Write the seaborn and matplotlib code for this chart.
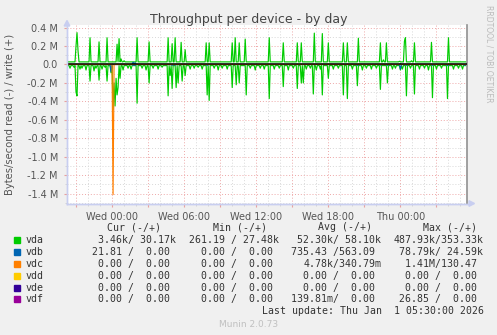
import numpy as np
import pandas as pd
import matplotlib
matplotlib.use("Agg")
import matplotlib.pyplot as plt
from matplotlib.patches import Polygon, Rectangle
import seaborn as sns

# ---------------- data (hours relative to Wed 00:00, bytes/s) ----------------
T_START, T_END = -3.75, 29.5          # Tue 20:15 .. Thu 05:30, 5-minute samples
STEP_H = 1.0 / 12

vda_write_base = 28e3
vda_write_h = [-2.97, -2.89, -2.81, -1.81, -1.11, -0.39, 0.44, 0.58, 0.72, 1.00,
               2.08, 3.06, 4.67, 5.00, 5.28, 5.78, 6.11, 7.83, 8.06, 10.00,
               10.28, 10.56, 11.11, 13.11, 14.25, 15.44, 15.78, 16.80, 17.50, 18.00,
               19.25, 19.61, 20.47, 22.36, 22.56, 22.86, 23.94, 24.36, 24.44, 24.94,
               25.19, 26.60, 27.97]
vda_write_v = [200e3, 345e3, 150e3, 290e3, 245e3, 290e3, 220e3, 280e3, 60e3, 40e3,
               290e3, 245e3, 290e3, 225e3, 290e3, 240e3, 160e3, 235e3, 235e3, 235e3,
               290e3, 235e3, 275e3, 290e3, 235e3, 235e3, 235e3, 340e3, 335e3, 235e3,
               235e3, 235e3, 285e3, 235e3, 50e3, 235e3, 35e3, 250e3, 290e3, 40e3,
               235e3, 240e3, 290e3]

vda_read_base = 12e3
vda_read_h = [-3.50, -3.20, -2.97, -2.89, -2.70, -2.50, -2.20, -1.81, -1.50, -1.30,
              -1.11, -0.80, -0.60, -0.39, -0.08, 0.11, 0.19, 0.25, 0.33, 0.39,
              0.47, 0.53, 0.67, 0.92, 1.30, 1.60, 2.08, 2.50, 2.80, 3.06,
              3.40, 3.80, 4.20, 4.69, 4.83, 5.03, 5.31, 5.53, 5.81, 6.11,
              6.50, 6.80, 7.20, 7.50, 7.89, 8.11, 8.50, 8.80, 9.20, 9.60,
              10.03, 10.31, 10.56, 11.14, 11.50, 11.90, 12.30, 12.70, 13.11, 13.50,
              13.90, 14.28, 14.70, 15.10, 15.44, 15.72, 15.94, 16.20, 16.50, 16.78,
              17.00, 17.30, 17.53, 18.03, 18.40, 18.80, 19.28, 19.61, 20.00, 20.44,
              20.80, 21.20, 21.60, 22.00, 22.33, 22.89, 23.30, 23.60, 23.97, 24.20,
              24.47, 24.80, 25.19, 25.60, 26.00, 26.30, 26.64, 27.00, 27.40, 27.94,
              28.40, 28.80, 29.20]
vda_read_v = [40e3, 30e3, 300e3, 340e3, 50e3, 40e3, 60e3, 180e3, 70e3, 40e3,
              170e3, 50e3, 30e3, 180e3, 90e3, 488e3, 200e3, 450e3, 150e3, 330e3,
              120e3, 250e3, 150e3, 60e3, 40e3, 50e3, 420e3, 40e3, 60e3, 200e3,
              40e3, 50e3, 30e3, 340e3, 120e3, 260e3, 250e3, 200e3, 180e3, 120e3,
              50e3, 40e3, 30e3, 50e3, 330e3, 390e3, 40e3, 60e3, 40e3, 50e3,
              250e3, 220e3, 200e3, 330e3, 40e3, 60e3, 40e3, 50e3, 370e3, 50e3,
              40e3, 240e3, 60e3, 40e3, 260e3, 200e3, 200e3, 50e3, 40e3, 320e3,
              60e3, 50e3, 330e3, 150e3, 50e3, 40e3, 330e3, 370e3, 50e3, 230e3,
              60e3, 40e3, 50e3, 40e3, 270e3, 200e3, 50e3, 40e3, 60e3, 50e3,
              340e3, 40e3, 320e3, 50e3, 40e3, 60e3, 360e3, 50e3, 40e3, 370e3,
              50e3, 40e3, 50e3]

vdb_read_h = [-0.08, 1.75, 1.92, 5.00, 5.25, 7.90, 20.40, 22.30, 22.90, 23.97,
              24.47, 26.64, 27.94, 29.30]
vdb_read_v = [79e3, 10e3, 12e3, 10e3, 8e3, 10e3, 10e3, 8e3, 10e3, 50e3,
              10e3, 10e3, 12e3, 10e3]
vdb_write_h = [1.75, 1.92, 23.97]
vdb_write_v = [25e3, 20e3, 10e3]

vdc_read_h = [0.11]
vdc_read_v = [1.41e6]

names = ["vda", "vdb", "vdc", "vdd", "vde", "vdf"]
colors = ["#00CC00", "#0066B3", "#FF8000", "#FFCC00", "#330099", "#990099"]
cur_txt = ["3.46k/ 30.17k", "21.81 /  0.00 ", "0.00 /  0.00 ", "0.00 /  0.00 ",
           "0.00 /  0.00 ", "0.00 /  0.00 "]
min_txt = ["261.19 / 27.48k", "0.00 /  0.00 ", "0.00 /  0.00 ", "0.00 /  0.00 ",
           "0.00 /  0.00 ", "0.00 /  0.00 "]
avg_txt = ["52.30k/ 58.10k", "735.43 /563.09 ", "4.78k/340.79m", "0.00 /  0.00 ",
           "0.00 /  0.00 ", "139.81m/  0.00 "]
max_txt = ["487.93k/353.33k", "78.79k/ 24.59k", "1.41M/130.47 ", "0.00 /  0.00 ",
           "0.00 /  0.00 ", "26.85 /  0.00 "]
x_tick_pos = [-3, 0, 3, 6, 9, 12, 15, 18, 21, 24, 27]
x_tick_lab = ["", "Wed 00:00", "", "Wed 06:00", "", "Wed 12:00", "",
              "Wed 18:00", "", "Thu 00:00", ""]
y_tick_pos = [-1.4e6, -1.2e6, -1.0e6, -0.8e6, -0.6e6, -0.4e6, -0.2e6, 0.0, 0.2e6, 0.4e6]
y_tick_lab = ["-1.4 M", "-1.2 M", "-1.0 M", "-0.8 M", "-0.6 M", "-0.4 M", "-0.2 M",
              "0.0", "0.2 M", "0.4 M"]

# ---------------- build 5-minute sample series ----------------
t_grid = T_START + np.arange(int(round((T_END - T_START) * 12))) * STEP_H
N = len(t_grid)


def samples(base, hs, vs):
    arr = np.full(N, float(base))
    for h, v in zip(hs, vs):
        i = int(round((h - T_START) * 12))
        if 0 <= i < N and abs(v) > abs(arr[i]):
            arr[i] = v
    return arr


series = [
    ("vda_w", samples(vda_write_base, vda_write_h, vda_write_v), colors[0]),
    ("vda_r", -samples(vda_read_base, vda_read_h, vda_read_v), colors[0]),
    ("vdb_w", samples(0, vdb_write_h, vdb_write_v), colors[1]),
    ("vdb_r", -samples(0, vdb_read_h, vdb_read_v), colors[1]),
    ("vdc_r", -samples(0, vdc_read_h, vdc_read_v), colors[2]),
]

# ---------------- figure ----------------
W, H = 497, 335
fig = plt.figure(figsize=(W / 100, H / 100), dpi=100)
fig.patch.set_facecolor("#F0F0F0")


def fx(px):
    return px / W


def fy(py):
    return 1 - py / H


L, R, TOP, BOT = 67, 466.5, 25, 203.5
ax = fig.add_axes([fx(L), fy(BOT), fx(R) - fx(L), fy(TOP) - fy(BOT)])
ax.set_facecolor("white")

for k, (name, arr, col) in enumerate(series):
    df = pd.DataFrame({"t": t_grid, "v": arr})
    sns.lineplot(data=df, x="t", y="v", color=col, lw=0.85, ax=ax,
                 estimator=None, sort=False, zorder=3 + k * 0.1)
ax.axhline(0, color="black", lw=1.1, zorder=6)

ax.set_xlim(T_START, T_END)
ax.set_ylim(-1.507e6, 0.428e6)
ax.set_xlabel("")
ax.set_ylabel("")

# grid
ax.set_xticks(x_tick_pos)
ax.set_xticklabels(x_tick_lab)
ax.set_xticks(np.arange(-3, 30, 1), minor=True)
ax.set_yticks(y_tick_pos)
ax.set_yticklabels(y_tick_lab)
ax.set_yticks(np.arange(-1.5e6, 0.45e6, 0.1e6), minor=True)
ax.grid(which="minor", color="#D8D8D8", lw=0.7, ls=(0, (1, 2)), zorder=1)
ax.grid(which="major", color="#EEA8A8", lw=0.7, ls=(0, (1, 2)), zorder=2)
ax.set_axisbelow(True)
ax.tick_params(axis="both", which="major", labelsize=7, labelcolor="#555555",
               length=2, color="#E8A0A0")
ax.tick_params(axis="both", which="minor", length=1.5, color="#D0D0D0")
ax.tick_params(axis="x", pad=4)
ax.tick_params(axis="y", pad=4.5)

ax.spines["top"].set_visible(False)
ax.spines["right"].set_color("#909090")
ax.spines["right"].set_linewidth(1.2)
ax.spines["left"].set_color("#C8CEF0")
ax.spines["bottom"].set_color("#C8CEF0")
ax.spines["left"].set_linewidth(1)
ax.spines["bottom"].set_linewidth(1)

# axis arrows
fig.add_artist(Polygon([(fx(64.2), fy(26)), (fx(69.8), fy(26)), (fx(67), fy(20.5))],
                       closed=True, color="#C8CEF0", transform=fig.transFigure))
fig.add_artist(Polygon([(fx(469), fy(200.7)), (fx(469), fy(206.3)), (fx(474.5), fy(203.5))],
                       closed=True, color="#C8CEF0", transform=fig.transFigure))
fig.add_artist(plt.Line2D([fx(L), fx(469)], [fy(BOT), fy(BOT)], color="#C8CEF0",
                          lw=1, transform=fig.transFigure))
fig.add_artist(plt.Line2D([fx(L), fx(L)], [fy(BOT), fy(24)], color="#C8CEF0",
                          lw=1, transform=fig.transFigure))

# title and labels
fig.text(fx(248.5), fy(19), "Throughput per device - by day", ha="center", va="center",
         fontsize=9, color="#444444")
fig.text(fx(10), fy(114), "Bytes/second read (-) / write (+)", ha="center", va="center",
         rotation=90, fontsize=7.2, color="#555555")
fig.text(fx(489), fy(5), "RRDTOOL / TOBI OETIKER", ha="center", va="top",
         rotation=270, fontsize=5.5, color="#BBBBBB")

# legend table
mono = "DejaVu Sans Mono"
CW = 5.97
fs = 7.15
tc = "#333333"
headers = [("Cur (-/+)", 107.3), ("Min (-/+)", 212.7), ("Avg (-/+)", 318.3), ("Max (-/+)", 422.7)]
for txt, x0 in headers:
    fig.text(fx(x0), fy(227.3), txt, ha="left", va="center", fontsize=fs,
             family=mono, color=tc)
row_y = [240, 251.7, 263.7, 275.7, 287.7, 299.3]
col_ends = [175.7, 279.0, 381.0, 482.7]
for i, nm in enumerate(names):
    y = row_y[i]
    fig.add_artist(Rectangle((fx(14.3), fy(y + 3)), fx(6), fy(0) - fy(6),
                             color=colors[i], transform=fig.transFigure))
    fig.text(fx(26), fy(y), nm, ha="left", va="center", fontsize=fs, family=mono, color=tc)
    for col_txt, xe in zip([cur_txt, min_txt, avg_txt, max_txt], col_ends):
        s = col_txt[i]
        fig.text(fx(xe - len(s) * CW), fy(y), s, ha="left", va="center",
                 fontsize=fs, family=mono, color=tc)
lu = "Last update: Thu Jan  1 05:30:00 2026"
fig.text(fx(482.7 - len(lu) * CW), fy(311.3), lu, ha="left", va="center",
         fontsize=fs, family=mono, color=tc)
fig.text(fx(248.5), fy(324.3), "Munin 2.0.73", ha="center", va="center",
         fontsize=6.5, color="#C0C0C0")

fig.savefig("out.png", dpi=100, facecolor=fig.get_facecolor())
